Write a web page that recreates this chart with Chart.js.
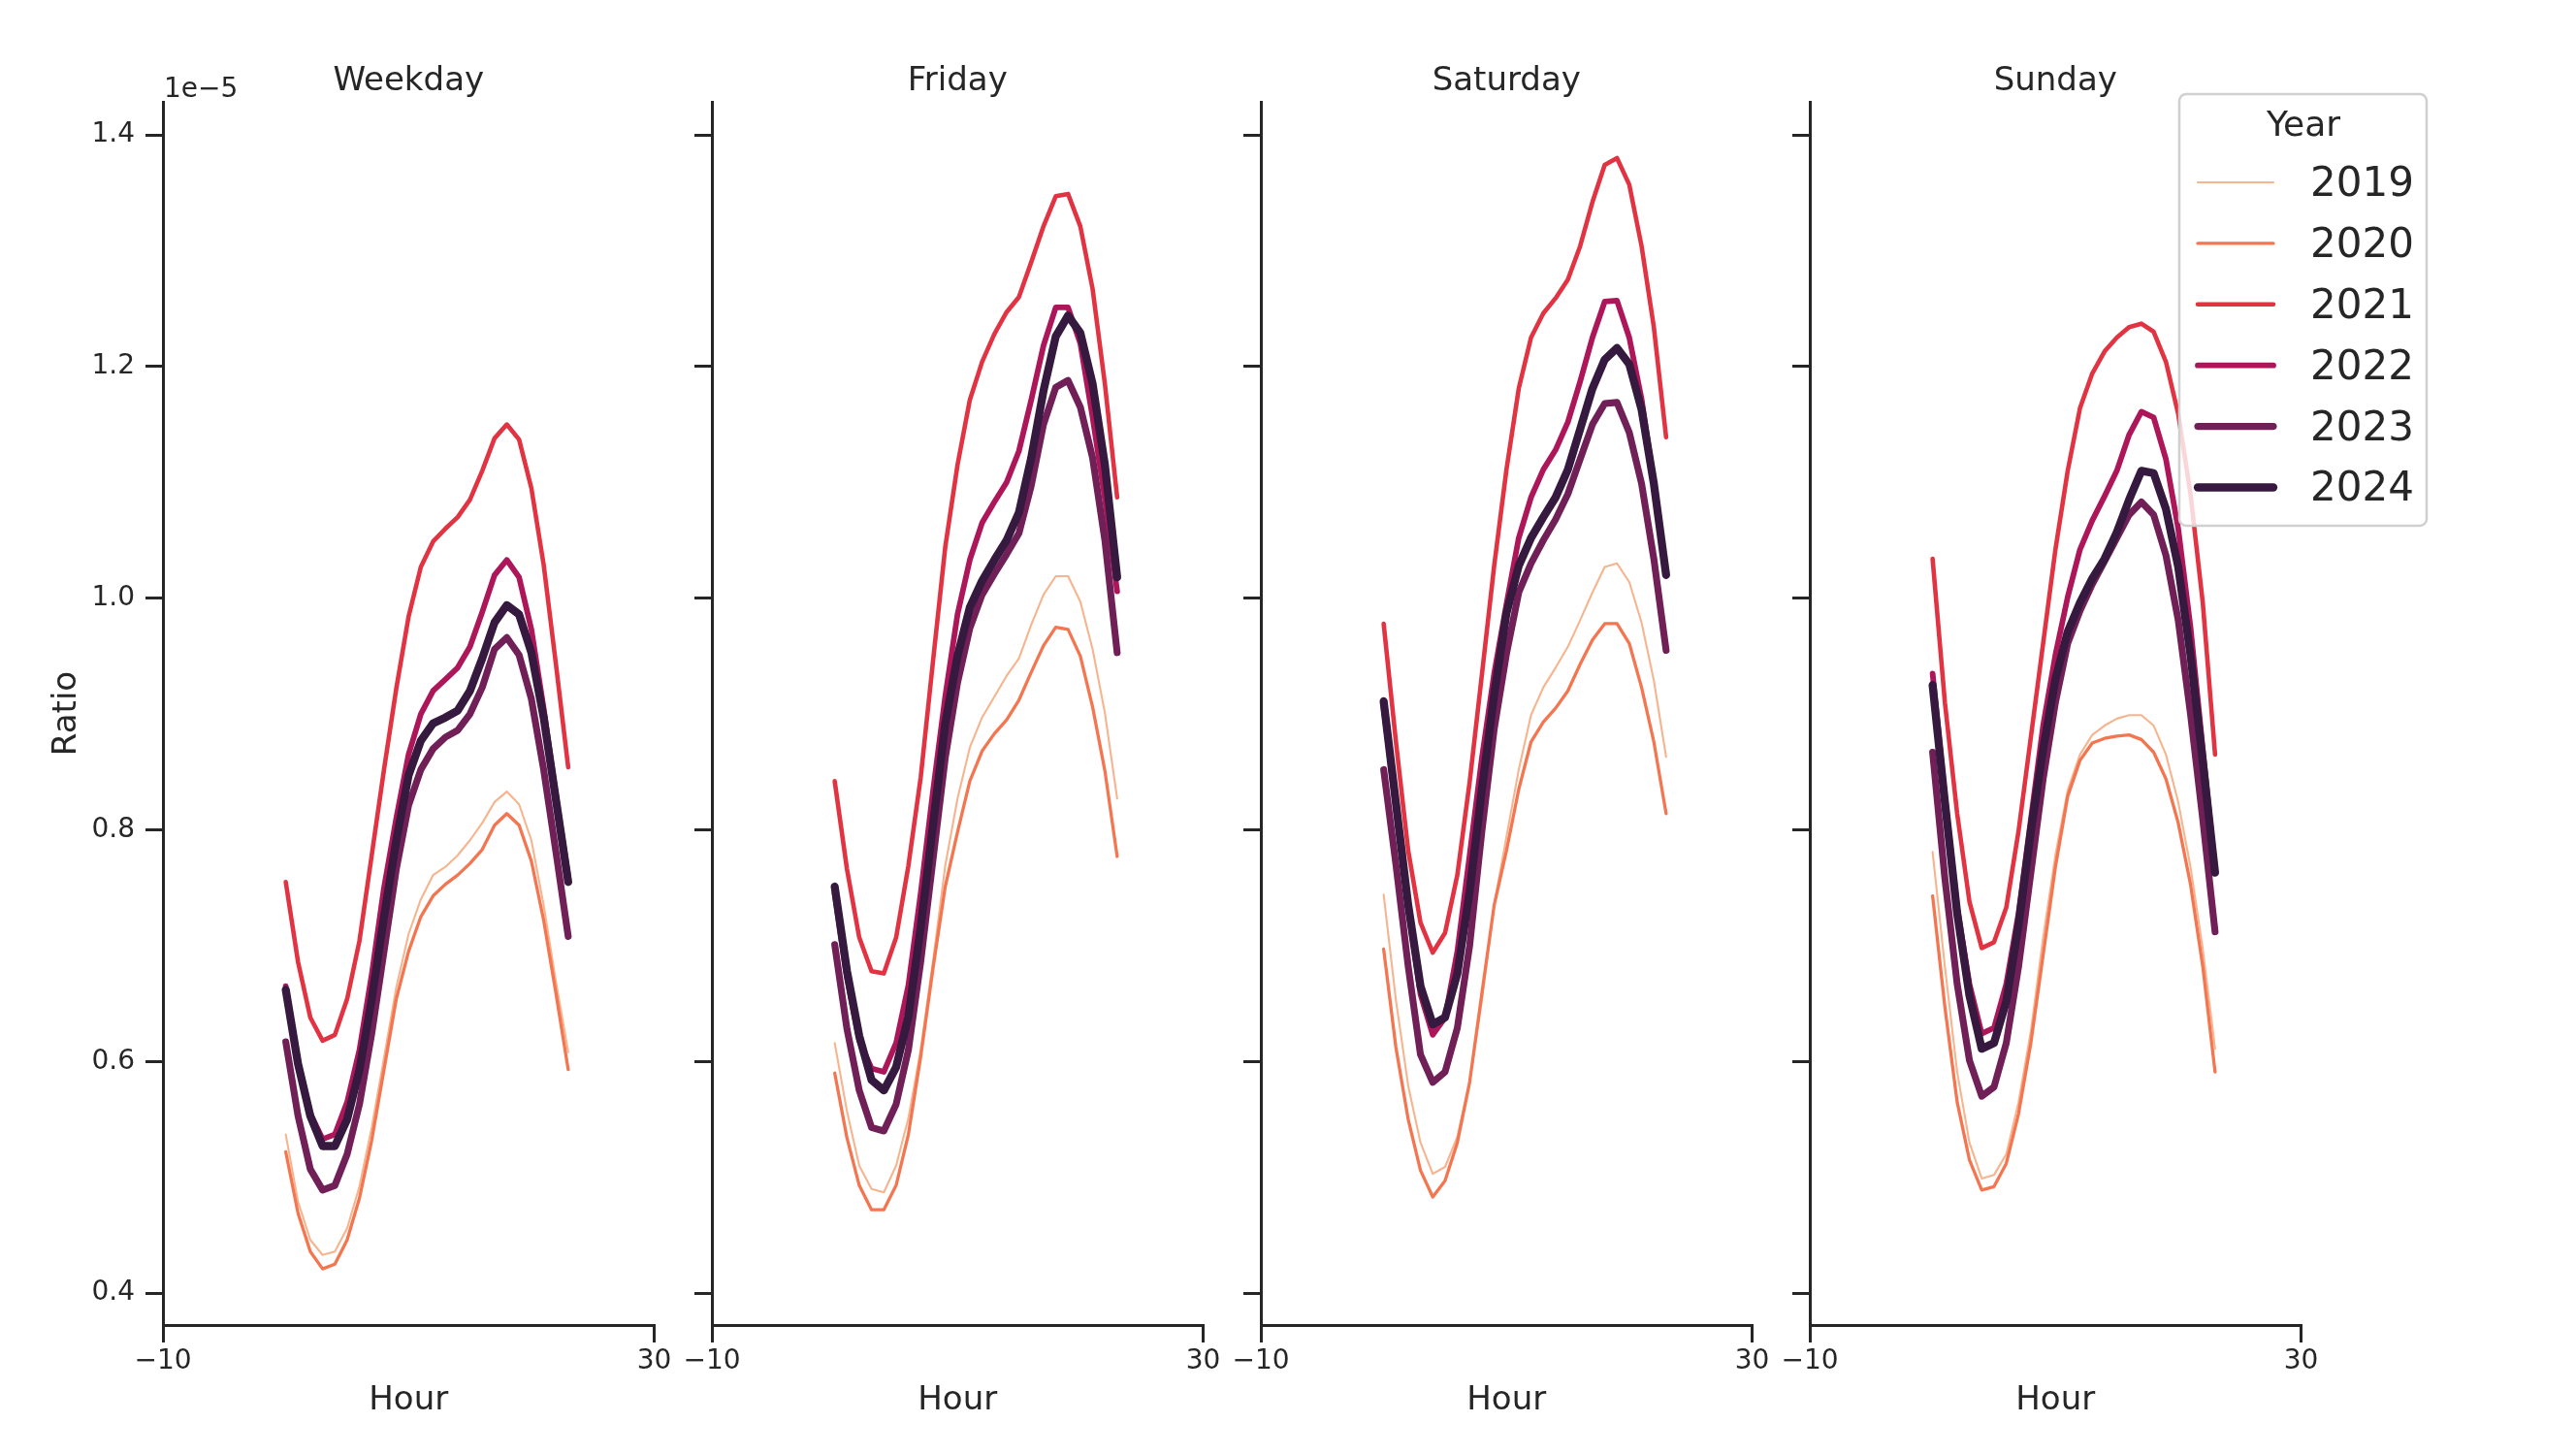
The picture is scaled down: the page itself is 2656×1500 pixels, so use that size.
<!DOCTYPE html>
<html>
<head>
<meta charset="utf-8">
<title>Ratio by hour</title>
<script src="https://cdn.jsdelivr.net/npm/chart.js@4.4.1/dist/chart.umd.min.js"></script>
<style>
  html, body { margin: 0; padding: 0; background: #fff; }
  #page { position: relative; width: 2656px; height: 1500px; }
  #page canvas { position: absolute; left: 0; top: 0; }
</style>
</head>
<body>
<div id="page"></div>
<script>
const hours = [0, 1, 2, 3, 4, 5, 6, 7, 8, 9, 10, 11, 12, 13, 14, 15, 16, 17, 18, 19, 20, 21, 22, 23];
const years = ["2019", "2020", "2021", "2022", "2023", "2024"];
const panels = ["Weekday", "Friday", "Saturday", "Sunday"];
const xTicks = [-10, 30];
const yTicks = [0.4, 0.6, 0.8, 1.0, 1.2, 1.4];

// ratio values, in units of 1e-5
const weekday2019 = [0.537, 0.479, 0.446, 0.433, 0.436, 0.456, 0.492, 0.543, 0.603, 0.664, 0.710, 0.740, 0.761, 0.768, 0.778, 0.791, 0.806, 0.824, 0.833, 0.822, 0.791, 0.735, 0.669, 0.608];
const weekday2020 = [0.522, 0.469, 0.436, 0.421, 0.425, 0.446, 0.482, 0.532, 0.593, 0.654, 0.695, 0.725, 0.743, 0.753, 0.761, 0.771, 0.783, 0.804, 0.814, 0.804, 0.773, 0.722, 0.659, 0.593];
const weekday2021 = [0.755, 0.686, 0.638, 0.618, 0.623, 0.654, 0.704, 0.778, 0.852, 0.922, 0.984, 1.027, 1.049, 1.060, 1.070, 1.085, 1.110, 1.138, 1.150, 1.137, 1.095, 1.029, 0.943, 0.854];
const weekday2022 = [0.665, 0.600, 0.555, 0.533, 0.537, 0.565, 0.610, 0.675, 0.750, 0.810, 0.865, 0.900, 0.920, 0.930, 0.940, 0.958, 0.988, 1.020, 1.033, 1.018, 0.973, 0.905, 0.830, 0.760];
const weekday2023 = [0.617, 0.553, 0.507, 0.489, 0.493, 0.520, 0.563, 0.624, 0.695, 0.766, 0.821, 0.852, 0.870, 0.880, 0.886, 0.900, 0.923, 0.956, 0.966, 0.951, 0.913, 0.852, 0.781, 0.708];
const weekday2024 = [0.662, 0.598, 0.553, 0.527, 0.527, 0.550, 0.593, 0.654, 0.725, 0.791, 0.847, 0.877, 0.892, 0.897, 0.903, 0.920, 0.948, 0.979, 0.994, 0.986, 0.953, 0.897, 0.826, 0.755];

const friday2019 = [0.616, 0.557, 0.510, 0.490, 0.487, 0.510, 0.551, 0.610, 0.686, 0.769, 0.827, 0.871, 0.897, 0.915, 0.933, 0.948, 0.977, 1.003, 1.019, 1.019, 0.997, 0.956, 0.901, 0.827];
const friday2020 = [0.590, 0.534, 0.493, 0.472, 0.472, 0.493, 0.537, 0.604, 0.680, 0.751, 0.798, 0.842, 0.868, 0.883, 0.895, 0.912, 0.936, 0.959, 0.975, 0.973, 0.950, 0.906, 0.851, 0.777];
const friday2021 = [0.842, 0.766, 0.707, 0.678, 0.676, 0.707, 0.769, 0.845, 0.945, 1.044, 1.115, 1.171, 1.204, 1.228, 1.247, 1.260, 1.290, 1.321, 1.347, 1.349, 1.321, 1.267, 1.185, 1.087];
const friday2022 = [0.745, 0.672, 0.618, 0.594, 0.591, 0.616, 0.666, 0.745, 0.833, 0.915, 0.986, 1.033, 1.065, 1.083, 1.100, 1.127, 1.171, 1.218, 1.251, 1.251, 1.220, 1.156, 1.086, 1.006];
const friday2023 = [0.701, 0.628, 0.575, 0.543, 0.540, 0.563, 0.610, 0.686, 0.774, 0.862, 0.927, 0.974, 1.003, 1.021, 1.038, 1.056, 1.097, 1.150, 1.182, 1.188, 1.165, 1.121, 1.050, 0.953];
const friday2024 = [0.751, 0.678, 0.622, 0.584, 0.575, 0.595, 0.639, 0.716, 0.804, 0.892, 0.950, 0.992, 1.015, 1.033, 1.050, 1.074, 1.121, 1.179, 1.226, 1.244, 1.229, 1.185, 1.115, 1.018];

const saturday2019 = [0.744, 0.653, 0.579, 0.530, 0.503, 0.509, 0.535, 0.582, 0.653, 0.735, 0.794, 0.852, 0.899, 0.923, 0.940, 0.958, 0.981, 1.005, 1.027, 1.030, 1.014, 0.979, 0.929, 0.863];
const saturday2020 = [0.697, 0.612, 0.550, 0.506, 0.483, 0.497, 0.530, 0.582, 0.659, 0.735, 0.782, 0.835, 0.876, 0.893, 0.905, 0.920, 0.943, 0.964, 0.978, 0.978, 0.961, 0.923, 0.876, 0.814];
const saturday2021 = [0.978, 0.876, 0.782, 0.720, 0.694, 0.711, 0.761, 0.841, 0.934, 1.028, 1.111, 1.181, 1.225, 1.246, 1.259, 1.275, 1.304, 1.342, 1.374, 1.380, 1.357, 1.304, 1.234, 1.139];
const saturday2022 = [0.905, 0.820, 0.732, 0.658, 0.623, 0.638, 0.695, 0.778, 0.862, 0.935, 0.995, 1.052, 1.087, 1.111, 1.128, 1.152, 1.187, 1.225, 1.256, 1.257, 1.225, 1.172, 1.100, 1.022];
const saturday2023 = [0.852, 0.770, 0.682, 0.606, 0.582, 0.591, 0.629, 0.700, 0.799, 0.887, 0.952, 1.005, 1.030, 1.050, 1.068, 1.090, 1.120, 1.150, 1.168, 1.169, 1.143, 1.099, 1.034, 0.955];
const saturday2024 = [0.911, 0.823, 0.735, 0.665, 0.632, 0.638, 0.676, 0.747, 0.835, 0.917, 0.987, 1.028, 1.052, 1.070, 1.087, 1.111, 1.146, 1.181, 1.206, 1.216, 1.202, 1.163, 1.099, 1.020];

const sunday2019 = [0.781, 0.682, 0.591, 0.530, 0.499, 0.502, 0.520, 0.565, 0.626, 0.707, 0.778, 0.834, 0.865, 0.882, 0.890, 0.896, 0.899, 0.899, 0.890, 0.865, 0.824, 0.768, 0.697, 0.611];
const sunday2020 = [0.743, 0.647, 0.565, 0.515, 0.489, 0.492, 0.512, 0.555, 0.616, 0.692, 0.768, 0.829, 0.860, 0.875, 0.879, 0.881, 0.882, 0.878, 0.867, 0.844, 0.806, 0.753, 0.682, 0.591];
const sunday2021 = [1.034, 0.910, 0.814, 0.738, 0.698, 0.703, 0.733, 0.799, 0.880, 0.961, 1.042, 1.110, 1.164, 1.194, 1.213, 1.225, 1.234, 1.237, 1.230, 1.204, 1.159, 1.090, 0.996, 0.865];
const sunday2022 = [0.935, 0.829, 0.733, 0.667, 0.624, 0.629, 0.667, 0.728, 0.809, 0.890, 0.951, 1.001, 1.042, 1.067, 1.088, 1.110, 1.141, 1.161, 1.156, 1.120, 1.060, 0.975, 0.870, 0.765];
const sunday2023 = [0.867, 0.758, 0.667, 0.601, 0.570, 0.578, 0.616, 0.682, 0.763, 0.844, 0.910, 0.961, 0.989, 1.012, 1.032, 1.052, 1.072, 1.083, 1.072, 1.037, 0.981, 0.900, 0.809, 0.712];
const sunday2024 = [0.925, 0.824, 0.728, 0.657, 0.611, 0.616, 0.652, 0.718, 0.799, 0.870, 0.930, 0.971, 0.996, 1.017, 1.034, 1.057, 1.085, 1.110, 1.108, 1.077, 1.027, 0.951, 0.859, 0.763];

const series = {
  Weekday: [weekday2019, weekday2020, weekday2021, weekday2022, weekday2023, weekday2024],
  Friday: [friday2019, friday2020, friday2021, friday2022, friday2023, friday2024],
  Saturday: [saturday2019, saturday2020, saturday2021, saturday2022, saturday2023, saturday2024],
  Sunday: [sunday2019, sunday2020, sunday2021, sunday2022, sunday2023, sunday2024]
};

/* === styling === */
const colors = ["#f6b48f", "#f37651", "#e13342", "#ad1759", "#701f57", "#35193e"];
const widths = [2.1, 3.3, 4.6, 5.8, 7.1, 8.3];
const INK = "#262626";
const FONT = "'DejaVu Sans', sans-serif";

const W = 2656, H = 1500;
const PANEL_LEFT = 168, PANEL_STEP = 566, PANEL_W = 506.5;
const YAXIS_W = 120, XAXIS_H = 104, PAD_BOTTOM = 30;

/* === small plugins: offset text and the year legend === */
const offsetText = {
  id: "offsetText",
  afterDraw(chart, args, opts) {
    if (!opts.text) return;
    const ctx = chart.ctx;
    ctx.save();
    ctx.fillStyle = INK;
    ctx.font = `28px ${FONT}`;
    ctx.textAlign = "left";
    ctx.textBaseline = "alphabetic";
    ctx.fillText(opts.text, chart.chartArea.left + 1, chart.chartArea.top - 5);
    ctx.restore();
  }
};

const yearLegend = {
  id: "yearLegend",
  afterDraw(chart, args, opts) {
    if (!opts.show) return;
    const ctx = chart.ctx;
    ctx.save();
    ctx.beginPath();
    ctx.roundRect(2247, 97, 255, 445, 7);
    ctx.fillStyle = "rgba(255,255,255,0.8)";
    ctx.fill();
    ctx.lineWidth = 2.5;
    ctx.strokeStyle = "#d0d0d0";
    ctx.stroke();

    ctx.fillStyle = INK;
    ctx.textAlign = "center";
    ctx.textBaseline = "middle";
    ctx.font = `36px ${FONT}`;
    ctx.fillText(opts.title, 2375, 131);

    chart.data.datasets.forEach((ds, i) => {
      const y = 188 + i * 62.9;
      ctx.beginPath();
      ctx.moveTo(2266, y);
      ctx.lineTo(2344, y);
      ctx.strokeStyle = ds.borderColor;
      ctx.lineWidth = ds.borderWidth;
      ctx.lineCap = "round";
      ctx.stroke();
      ctx.fillStyle = INK;
      ctx.textAlign = "left";
      ctx.font = `42px ${FONT}`;
      ctx.fillText(ds.label, 2382, y + 3);
    });
    ctx.restore();
  }
};

/* === one chart per panel === */
function makePanel(idx) {
  const name = panels[idx];
  const canvas = document.createElement("canvas");
  canvas.width = W;
  canvas.height = H;
  document.getElementById("page").appendChild(canvas);

  const left = PANEL_LEFT + PANEL_STEP * idx;

  const datasets = years.map((yr, i) => ({
    label: yr,
    data: hours.map((h, k) => ({ x: h, y: series[name][i][k] })),
    borderColor: colors[i],
    backgroundColor: colors[i],
    borderWidth: widths[i],
    borderCapStyle: "round",
    borderJoinStyle: "round",
    pointRadius: 0,
    tension: 0,
    order: -i
  }));

  const axisCommon = {
    grid: { display: true, drawOnChartArea: false, drawTicks: true, tickLength: 18, tickWidth: 3, tickColor: INK, color: INK, lineWidth: 3 },
    border: { display: true, color: INK, width: 3 }
  };

  new Chart(canvas, {
    type: "line",
    data: { datasets },
    options: {
      responsive: false,
      animation: false,
      devicePixelRatio: 1,
      layout: { padding: { left: left - YAXIS_W, right: W - left - PANEL_W, top: 0, bottom: PAD_BOTTOM } },
      plugins: {
        legend: { display: false },
        tooltip: { enabled: false },
        title: {
          display: true, text: name, fullSize: false, color: INK,
          font: { family: FONT, size: 34, weight: "normal" },
          padding: { top: 63.6, bottom: 0.6 }
        },
        offsetText: { text: idx === 0 ? "1e\u22125" : "" },
        yearLegend: { show: idx === panels.length - 1, title: "Year" }
      },
      scales: {
        x: {
          ...axisCommon,
          type: "linear",
          min: -10,
          max: 30,
          afterBuildTicks: s => { s.ticks = xTicks.map(v => ({ value: v })); },
          afterFit: s => { s.height = XAXIS_H; },
          ticks: {
            color: INK, font: { family: FONT, size: 28 }, padding: 3,
            maxRotation: 0, autoSkip: false,
            callback: v => (v < 0 ? "\u2212" + (-v) : String(v))
          },
          title: {
            display: true, text: "Hour", color: INK,
            font: { family: FONT, size: 34 }, padding: { top: 0, bottom: 5 }
          }
        },
        y: {
          ...axisCommon,
          type: "linear",
          min: 0.3725,
          max: 1.4285,
          afterBuildTicks: s => { s.ticks = yTicks.map(v => ({ value: v })); },
          afterFit: s => { s.width = YAXIS_W; },
          ticks: {
            color: INK, font: { family: FONT, size: 28 }, padding: 11,
            callback: v => (idx === 0 ? v.toFixed(1) : "")
          },
          title: {
            display: idx === 0, text: "Ratio", color: INK,
            font: { family: FONT, size: 34 }, padding: { top: 0.6, bottom: 0 }
          }
        }
      }
    },
    plugins: [offsetText, yearLegend]
  });
}

panels.forEach((p, i) => makePanel(i));
</script>
</body>
</html>
